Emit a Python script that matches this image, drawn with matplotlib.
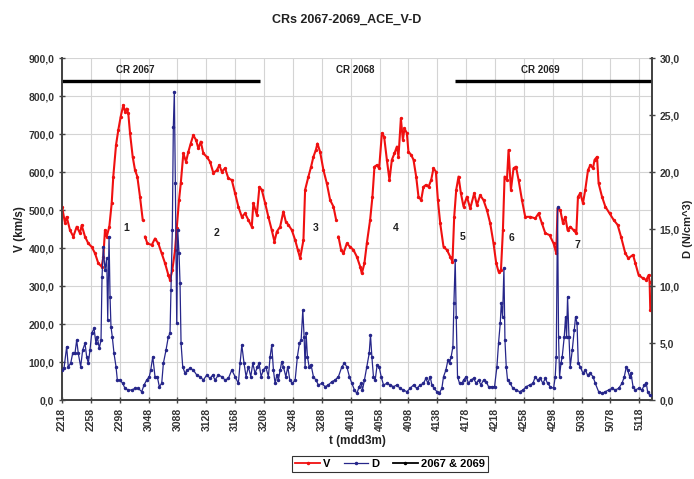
import numpy as np
import matplotlib
matplotlib.use('Agg')
from matplotlib import pyplot as plt
from matplotlib.lines import Line2D

plt.rcParams['font.family'] = ['Liberation Sans', 'DejaVu Sans']

nan = np.nan

# Скорость V (km/s): день от 2218 и значение
v_day = [0.0, 0.42, 0.65, 1.11, 1.57, 2.04, 2.50, 2.73, 3.19, 3.65, 4.12, 4.58, 5.03, 5.50, 5.73,
         5.96, 6.20, 6.56, 6.89, 7.11, 7.49, 7.81, 8.14, 8.50, 8.73, 8.97, 9.19, 9.43, 9.80, 10.12,
         10.44, 10.81, 11.19, 11.35, 11.51, 11.83, 12.44, 12.89, 13.35, 13.82, 14.28, 14.74, 14.97,
         15.29, 15.67, 15.90, 16.22, 16.46, 16.82, 17.19, 17.51, 17.84, 18.20, 18.58, 18.90, 19.23,
         19.59, 20.06, 20.52, 20.98, 21.45, 21.81, 22.14, 22.60, 23.06, 23.53, 23.99, 24.44, 24.92,
         25.37, 25.83, 26.30, 26.52, 27.00, 27.36, 27.69, 28.15, 28.60, 29.07, 29.44, 29.77, 30.23,
         30.68, 31.02, 31.38, 31.85, 32.31, 32.68, 33.00, 33.46, 33.69, 34.15, 34.52, 34.84, 35.18,
         35.40, 35.77, 36.23, 36.70, 37.16, 37.62, 37.99, 38.15, 38.31, 38.68, 39.00, 39.47, 39.93,
         40.39, 40.86, 41.32, 41.55, 41.91, 42.24, 42.70, 43.02, 43.30, 43.63, 43.95, 44.33, 44.64,
         45.02, 45.38, 45.71, 46.07, 46.41, 46.63, 46.96, 47.24, 47.46, 47.79, 48.01, 48.39, 48.71,
         49.08, 49.40, 49.77, 50.09, 50.43, 50.79, 51.16, 51.48, 51.81, 52.09, 52.41, 52.87, 53.34,
         53.80, 54.11, 54.35, 54.63, 54.95, 55.28, 55.64, 56.11, 56.57, 57.12, 57.50, 57.95, 58.41,
         58.88, 59.34, 59.80, 60.17, 60.49, 60.83, 61.10, 61.33, 61.66, 61.88, 62.21, 62.57, 62.91,
         63.27, 63.74, 64.19, 64.89, 65.58, 66.04, 66.51, 66.97, 67.56, 68.12, 68.49, 68.67, 69.05,
         69.42, 69.74, 70.06, 70.43, 70.89, 71.27, 71.50, 71.82, 72.19, 72.51, 72.89, 73.21, 73.58,
         73.80, 74.14, 74.36, 74.83, 75.29, 75.88, 76.44, 76.99, 77.46, 78.06, 78.49, 79.13, 79.45,
         79.90, 80.51, 80.97, 81.29, 81.43, 81.52]
v_val = [509, 466, 482, 447, 430, 456, 439, 460, 430, 412, 403, 386, 360, 351, 377,
         447, 430, 456, 518, 588, 671, 711, 746, 776, 759, 767, 754, 702, 640, 605,
         588, 535, 474, nan, 430, 412, 408, 425, 412, 386, 360, 329, 316,
         342, 395, 452, 526, 570, 649, 627, 653, 675, 697, 684, 662, 680,
         649, 640, 627, 597, 605, 618, 601, 610, 583, 579, 544, 509, 482,
         491, 474, 456, 518, 487, 561, 553, 518, 482, 447, 417, 443, 456,
         496, 469, 461, 447, 421, 395, 373, 421, 553, 588, 614, 640, 658,
         675, 653, 605, 570, 526, 509, 474, nan, 430, 395, 386, 412, 403,
         395, 377, 351, 333, 360, 412, 474, 535, 614, 618, 610, 702, 693,
         632, 579, 632, 649, 667, 640, 741, 684, 715, 702, 653, 645, 632,
         588, 535, 526, 561, 566, 561, 579, 610, 601, 526, 465, 403, 395,
         377, 364, 482, 553, 588, 544, 509, 535, 504, 544, 513, 539, 526,
         500, 465, 412, 360, 338, 342, 447, 588, 579, 658, 553, 610, 614,
         579, 526, 482, 482, 478, 491, 465, 439, 434, 412, 386, 504, 500,
         465, 482, 447, 456, 447, 439, 535, 544, 518, 553, 605, 618, 610,
         632, 640, 570, 535, 509, 491, 474, 461, 430, 386, 373, 382, 360,
         329, 320, 316, 329, 311, 237]

# Плотность D (N/cm^3)
d_day = [0.0, 0.28, 0.65, 0.87, 1.21, 1.48, 1.80, 2.04, 2.26, 2.59, 2.87, 3.19, 3.42, 3.65, 3.88,
         4.12, 4.44, 4.71, 4.89, 5.17, 5.41, 5.55, 5.73, 5.96, 6.20, 6.34, 6.52, 6.66, 6.79, 6.97,
         7.21, 7.49, 7.67, 8.04, 8.42, 8.73, 9.19, 9.66, 10.12, 10.58, 11.05, 11.37, 11.74, 12.10,
         12.30, 12.58, 12.89, 13.21, 13.49, 13.82, 14.05, 14.42, 14.74, 14.97, 15.11, 15.29, 15.43,
         15.57, 15.71, 15.90, 16.04, 16.22, 16.36, 16.50, 16.73, 17.05, 17.37, 17.75, 18.20, 18.68,
         19.13, 19.59, 20.06, 20.52, 20.89, 21.21, 21.67, 22.14, 22.60, 23.06, 23.53, 23.99, 24.44,
         24.68, 24.92, 25.23, 25.51, 25.83, 26.16, 26.44, 26.76, 27.08, 27.31, 27.59, 27.91, 28.24,
         28.60, 28.84, 29.07, 29.30, 29.53, 29.77, 29.99, 30.23, 30.46, 30.68, 31.02, 31.29, 31.57,
         31.93, 32.31, 32.62, 32.90, 33.14, 33.37, 33.55, 33.69, 33.83, 34.01, 34.25, 34.52, 34.84,
         35.18, 35.54, 36.01, 36.46, 36.92, 37.39, 37.85, 38.31, 38.78, 39.14, 39.47, 39.83, 40.17,
         40.53, 40.86, 41.18, 41.46, 41.64, 41.91, 42.24, 42.57, 42.75, 42.94, 43.16, 43.40, 43.67,
         43.95, 44.23, 44.55, 45.02, 45.48, 45.93, 46.41, 46.86, 47.32, 47.79, 48.25, 48.71, 49.18,
         49.64, 50.09, 50.43, 50.70, 51.02, 51.26, 51.58, 51.95, 52.27, 52.64, 52.87, 53.20, 53.48,
         53.70, 53.93, 54.17, 54.31, 54.49, 54.63, 54.81, 55.09, 55.42, 55.64, 56.01, 56.33, 56.67,
         57.03, 57.40, 57.72, 58.05, 58.41, 58.79, 59.11, 59.58, 59.94, 60.27, 60.49, 60.73, 60.87,
         61.05, 61.24, 61.38, 61.56, 61.74, 62.11, 62.49, 62.95, 63.40, 63.88, 64.33, 64.79, 65.26,
         65.58, 65.90, 66.27, 66.65, 66.97, 67.29, 67.66, 68.12, 68.35, 68.49, 68.67, 68.81, 68.95,
         69.14, 69.32, 69.60, 69.78, 69.92, 70.06, 70.25, 70.43, 70.71, 70.99, 71.17, 71.37, 71.54,
         71.82, 72.19, 72.51, 72.83, 73.21, 73.58, 73.90, 74.36, 74.83, 75.29, 75.74, 76.22, 76.67,
         77.13, 77.60, 77.92, 78.20, 78.38, 78.66, 78.85, 79.13, 79.45, 79.90, 80.37, 80.69, 80.97,
         81.15, 81.43]
d_val = [2.63, 2.78, 4.68, 2.92, 3.22, 4.09, 4.09, 5.26, 4.09, 2.92, 4.39, 4.97, 3.80, 3.22, 4.39,
         5.85, 6.29, 4.97, 5.56, 4.53, 5.26, 10.82, 13.45, 11.40, 12.43, 7.02, 14.33, 9.06, 6.43, 5.56,
         4.09, 2.92, 1.75, 1.75, 1.46, 1.02, 0.88, 0.88, 1.02, 1.02, 0.73, 1.32, 1.75, 2.05,
         2.63, 3.80, 2.05, 2.05, 1.17, 1.46, 3.22, 4.39, 5.56, 5.85, 9.65, 14.91, 23.98,
         27.05, 19.01, 6.73, 14.91, 12.87, 10.23, 4.97, 2.92, 2.34, 2.63, 2.78, 2.63, 2.19,
         2.05, 1.75, 2.19, 1.90, 2.19, 1.75, 2.19, 2.05, 1.75, 1.90, 2.63, 2.05, 1.46,
         3.22, 4.82, 3.22, 2.05, 2.92, 2.05, 3.22, 2.34, 2.92, 3.22, 2.05, 2.63, 2.92,
         2.05, 3.80, 4.82, 2.63, 1.46, 2.19, 1.75, 2.63, 3.36, 2.92, 2.05, 2.92, 1.75,
         1.46, 1.75, 3.80, 4.97, 5.26, 7.89, 5.56, 2.92, 5.85, 3.80, 2.92, 3.07, 2.05,
         1.75, 1.32, 1.46, 1.17, 1.32, 1.61, 1.75, 2.05, 2.92, 3.22, 2.92, 2.05, 1.46,
         0.88, 0.58, 1.17, 1.46, 0.88, 1.75, 2.92, 4.09, 5.70, 3.80, 2.05, 1.75, 3.07,
         2.92, 2.05, 1.32, 1.46, 1.32, 1.17, 1.32, 1.02, 0.88, 0.73, 1.02, 1.32, 1.02,
         1.32, 1.46, 1.90, 1.46, 2.05, 1.32, 1.02, 0.73, 0.58, 1.02, 2.05, 2.63, 3.51,
         3.22, 3.80, 4.68, 8.48, 12.28, 7.31, 2.05, 1.46, 1.46, 1.75, 2.05, 1.46, 1.75,
         1.90, 1.46, 1.75, 1.32, 1.75, 1.61, 1.17, 1.17, 1.17, 2.92, 4.97, 6.73, 8.48,
         7.31, 11.55, 5.26, 2.92, 1.75, 1.46, 1.02, 0.88, 0.73, 0.88, 1.17, 1.32, 1.46,
         2.05, 1.75, 1.90, 1.46, 1.90, 1.46, 1.17, 1.02, 2.05, 3.80, 16.9, 5.56, 2.05,
         3.22, 3.80, 5.56, 7.31, 5.56, 9.06, 5.56, 2.92, 4.39, 6.14, 7.31, 6.73, 3.22,
         2.92, 2.34, 2.63, 2.19, 2.34, 2.05, 1.46, 0.73, 0.58, 0.73, 0.88, 1.02, 0.88,
         1.02, 1.46, 2.05, 2.92, 2.63, 2.05, 2.34, 1.17, 0.88, 1.02, 0.88, 1.32, 1.46,
         0.73, 0.44]

# Полосы оборотов Кэррингтона 2067 и 2069
cr_day = [0.0, 27.45, nan, 54.49, 81.76]
cr_val = [840, 840, nan, 840, 840]
cr_names = ['CR 2067', 'CR 2068', 'CR 2069']
cr_text_day = [10.1, 40.6, 66.3]

# Номера событий
event_names = ['1', '2', '3', '4', '5', '6', '7']
event_day = [8.87, 21.4, 35.1, 46.2, 55.45, 62.25, 71.4]
event_val = [453, 439, 453, 453, 429, 426, 408]

tick_labels = ['2218', '2258', '2298', '3048', '3088', '3128', '3168', '3208', '3248', '3288',
               '4018', '4058', '4098', '4138', '4178', '4218', '4258', '4298', '5038', '5078', '5118']

red = '#f01010'
blue = '#26268a'
txt = '#333333'

fig = plt.figure(figsize=(6.94, 4.79), dpi=100)
ax = fig.add_axes([0.0893, 0.1649, 0.8502, 0.714])
ax2 = ax.twinx()

ax.plot(v_day, v_val, color=red, lw=1.5, marker='o', ms=1.4, zorder=3)
ax2.plot(d_day, d_val, color=blue, lw=0.9, marker='o', ms=1.5, zorder=3)
ax.plot(cr_day, cr_val, color='black', lw=2.4, solid_capstyle='butt', zorder=4)

for name, d in zip(cr_names, cr_text_day):
    ax.text(d, 868, name, ha='center', va='center', fontsize=7, color='#222222', fontweight='bold')

for name, d, v in zip(event_names, event_day, event_val):
    ax.text(d, v, name, ha='center', va='center', fontsize=7.5, color='#222222', fontweight='bold',
            zorder=6)

ax.set_xlim(0, 81.76)
ax.set_ylim(0, 900)
ax2.set_ylim(0, 30)
ax.set_xticks(np.arange(0, 81, 4))
ax.set_xticklabels(tick_labels, rotation=90)
ax.set_yticks(np.arange(0, 901, 100))
ax.set_yticklabels([f'{v},0' for v in range(0, 901, 100)])
ax2.set_yticks(np.arange(0, 31, 5))
ax2.set_yticklabels([f'{v},0' for v in range(0, 31, 5)])

ax.grid(True, color='#d4d4d4', lw=0.8)
ax.set_axisbelow(True)

for a in (ax, ax2):
    a.spines['top'].set_visible(False)
    for s in ('left', 'right', 'bottom'):
        a.spines[s].set_color('#444444')
        a.spines[s].set_linewidth(1.3)
    a.tick_params(direction='inout', length=5, width=1, color='#444444', labelsize=7.5,
                  labelcolor=txt, pad=3)
for lab in ax.get_xticklabels() + ax.get_yticklabels() + ax2.get_yticklabels():
    lab.set_fontweight('bold')

ax.set_ylabel('V (km/s)', fontsize=8.5, fontweight='bold', color='#222222', labelpad=2)
ax2.set_ylabel('D (N/cm^3)', fontsize=8, fontweight='bold', color='#222222', labelpad=2)
ax.set_xlabel('t (mdd3m)', fontsize=8.5, fontweight='bold', color='#222222', labelpad=3)
fig.suptitle('CRs 2067-2069_ACE_V-D', x=0.5, y=0.972, fontsize=9, fontweight='bold',
             color='#222222')

handles = [Line2D([], [], color=red, lw=1.3, marker='o', ms=1.5),
           Line2D([], [], color=blue, lw=0.9, marker='o', ms=1.5),
           Line2D([], [], color='black', lw=1.3, marker='o', ms=1.5)]
leg = fig.legend(handles, ['V', 'D', '2067 & 2069'], loc='center', bbox_to_anchor=(0.562, 0.031),
                 ncol=3, fontsize=8, frameon=True, fancybox=False, handlelength=2.2,
                 columnspacing=1.2, borderpad=0.3, handletextpad=0.3)
leg.get_frame().set_edgecolor('black')
leg.get_frame().set_linewidth(0.8)
for t in leg.get_texts():
    t.set_fontweight('bold')

fig.savefig('out.png', dpi=100)
